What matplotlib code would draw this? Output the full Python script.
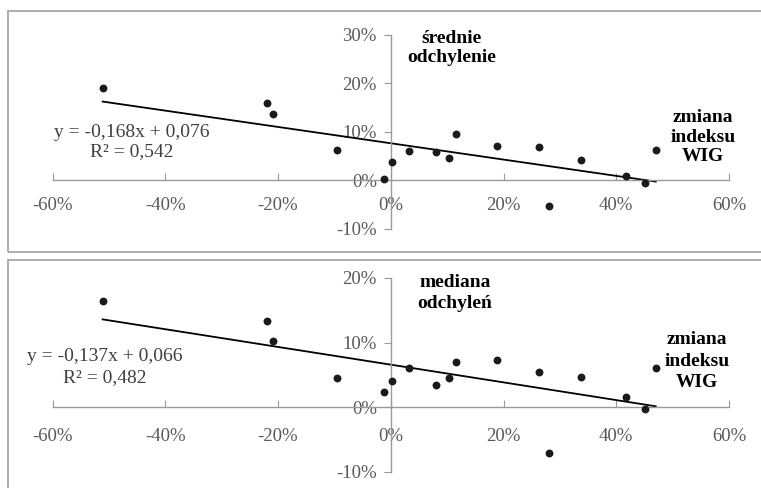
import matplotlib.pyplot as plt
from matplotlib.patches import Rectangle
from matplotlib.ticker import FuncFormatter
import numpy as np

plt.rcParams['font.family'] = ['Liberation Serif', 'DejaVu Serif']

# zmiana indeksu WIG (wspólna dla obu wykresów)
wig = [-0.511, -0.220, -0.208, -0.096, -0.012, 0.003, 0.033, 0.081, 0.104,
       0.115, 0.188, 0.263, 0.338, 0.280, 0.418, 0.451, 0.470]

# średnie odchylenie
srednie = [0.190, 0.158, 0.137, 0.062, 0.002, 0.037, 0.060, 0.059, 0.045,
           0.095, 0.070, 0.068, 0.041, -0.053, 0.009, -0.005, 0.062]

# mediana odchyleń
mediana = [0.164, 0.134, 0.103, 0.046, 0.023, 0.040, 0.061, 0.035, 0.046,
           0.070, 0.073, 0.054, 0.047, -0.070, 0.016, -0.003, 0.061]

# linie trendu: nachylenie, wyraz wolny, R2
trend_top = (-0.168, 0.076, 0.542)
trend_bot = (-0.137, 0.066, 0.482)

x_ticks = [-0.6, -0.4, -0.2, 0.0, 0.2, 0.4, 0.6]
y_ticks_top = [-0.1, 0.0, 0.1, 0.2, 0.3]
y_ticks_bot = [-0.1, 0.0, 0.1, 0.2]

W, H = 761, 488
fig = plt.figure(figsize=(W / 100, H / 100), dpi=100)

# ramki paneli
fig.patches.append(Rectangle((8 / W, 1 - 252 / H), 1.0, (252 - 11) / H,
                             transform=fig.transFigure, fill=False,
                             edgecolor='#a6a6a6', linewidth=1.3))
fig.patches.append(Rectangle((8 / W, 1 - 500 / H), 1.0, (500 - 260) / H,
                             transform=fig.transFigure, fill=False,
                             edgecolor='#a6a6a6', linewidth=1.3))

pct = FuncFormatter(lambda v, p: '%d%%' % round(v * 100))


def panel(rect, y, yticks, trend, ylabel, eq_pos, eq_ls, ylab_pos,
          xlab_pos, lab_ls, xpad):
    ax = fig.add_axes([rect[0] / W, 1 - rect[3] / H,
                       (rect[2] - rect[0]) / W, (rect[3] - rect[1]) / H])
    ax.patch.set_alpha(0)
    ax.scatter(wig, y, s=32, color='#1a1a1a', zorder=3, linewidths=0)
    a, b, r2 = trend
    xs = np.array([min(wig), max(wig)])
    ax.plot(xs, a * xs + b, color='black', linewidth=1.3, zorder=2)
    ax.set_xlim(-0.6, 0.6)
    ax.set_ylim(yticks[0], yticks[-1])
    ax.set_xticks(x_ticks)
    ax.set_yticks(yticks)
    ax.xaxis.set_major_formatter(pct)
    ax.yaxis.set_major_formatter(pct)
    for s in ['top', 'right']:
        ax.spines[s].set_visible(False)
    for s in ['left', 'bottom']:
        ax.spines[s].set_position(('data', 0))
        ax.spines[s].set_color('#999999')
        ax.spines[s].set_linewidth(1.0)
    ax.tick_params(axis='x', direction='in', length=5, color='#999999',
                   pad=xpad, labelsize=13.5, labelcolor='#595959')
    ax.tick_params(axis='y', direction='out', length=5, color='#999999',
                   pad=5, labelsize=13.5, labelcolor='#595959')
    eq = 'y = %sx + %s\nR² = %s' % (
        ('%.3f' % a).replace('.', ','), ('%.3f' % b).replace('.', ','),
        ('%.3f' % r2).replace('.', ','))
    fig.text(eq_pos[0] / W, 1 - eq_pos[1] / H, eq, ha='center', va='center',
             fontsize=14, color='#404040', linespacing=eq_ls)
    fig.text(ylab_pos[0] / W, 1 - ylab_pos[1] / H, ylabel, ha='center',
             va='center', fontsize=14, fontweight='bold', color='black',
             linespacing=lab_ls)
    fig.text(xlab_pos[0] / W, 1 - xlab_pos[1] / H, 'zmiana\nindeksu\nWIG',
             ha='center', va='center', fontsize=14, fontweight='bold',
             color='black', linespacing=lab_ls)
    return ax


panel((52.5, 34.5, 729, 228.7), srednie, y_ticks_top, trend_top,
      'średnie\nodchylenie', (132, 142), 1.15, (452, 48), (703, 137), 1.2, 12)
panel((52.5, 278, 729, 472), mediana, y_ticks_bot, trend_bot,
      'mediana\nodchyleń', (105, 367), 1.35, (455, 293), (697, 361), 1.35, 15)

plt.savefig('out.png', dpi=100)
